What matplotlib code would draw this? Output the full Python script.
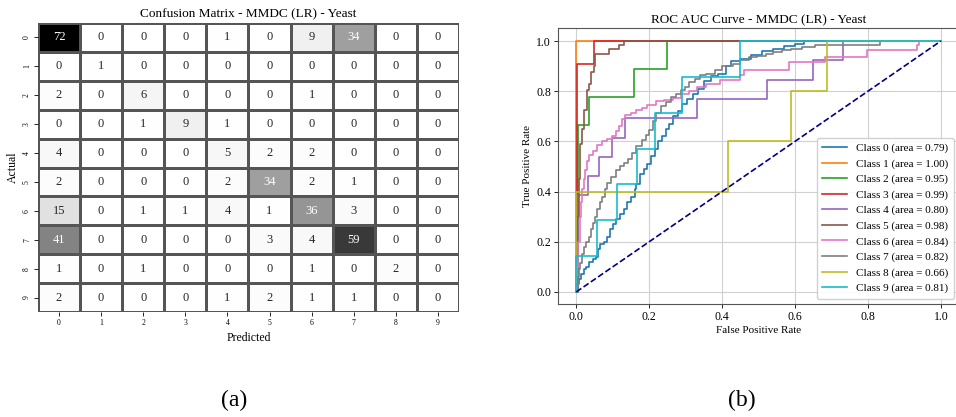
import numpy as np
import matplotlib
matplotlib.use("Agg")
import matplotlib.pyplot as plt
import seaborn as sns

plt.rcParams['font.family'] = ['Liberation Serif', 'DejaVu Serif']

# confusion matrix (rows = actual, cols = predicted)
labels = [str(i) for i in range(10)]
cm = np.array([
    [72, 0, 0, 0, 1, 0, 9, 34, 0, 0],
    [0, 1, 0, 0, 0, 0, 0, 0, 0, 0],
    [2, 0, 6, 0, 0, 0, 1, 0, 0, 0],
    [0, 0, 1, 9, 1, 0, 0, 0, 0, 0],
    [4, 0, 0, 0, 5, 2, 2, 0, 0, 0],
    [2, 0, 0, 0, 2, 34, 2, 1, 0, 0],
    [15, 0, 1, 1, 4, 1, 36, 3, 0, 0],
    [41, 0, 0, 0, 0, 3, 4, 59, 0, 0],
    [1, 0, 1, 0, 0, 0, 1, 0, 2, 0],
    [2, 0, 0, 0, 1, 2, 1, 1, 0, 0],
])

# ROC curves, corner points (top of each vertical step)
fpr0 = [0, 0.003, 0.008, 0.012, 0.02, 0.028, 0.035, 0.045, 0.055, 0.06, 0.065, 0.075,
        0.085, 0.092, 0.1, 0.11, 0.12, 0.13, 0.14, 0.15, 0.16, 0.165, 0.175, 0.185,
        0.195, 0.205, 0.215, 0.225, 0.235, 0.245, 0.255, 0.265, 0.28, 0.29, 0.305,
        0.32, 0.335, 0.35, 0.37, 0.39, 0.41, 0.425, 0.45, 0.48, 0.51, 0.54, 0.57,
        0.6, 0.625, 1.0]
tpr0 = [0, 0.03, 0.05, 0.07, 0.09, 0.10, 0.12, 0.13, 0.14, 0.17, 0.19, 0.2,
        0.22, 0.25, 0.27, 0.29, 0.31, 0.33, 0.36, 0.38, 0.41, 0.43, 0.47, 0.49,
        0.51, 0.54, 0.57, 0.6, 0.62, 0.65, 0.67, 0.7, 0.72, 0.75, 0.77,
        0.79, 0.81, 0.84, 0.86, 0.87, 0.9, 0.92, 0.93, 0.945, 0.96, 0.97, 0.98,
        0.99, 1.0, 1.0]
fpr1 = [0, 0, 1.0]
tpr1 = [0, 1.0, 1.0]
fpr2 = [0, 0.005, 0.036, 0.158, 0.25, 1.0]
tpr2 = [0, 0.667, 0.778, 0.889, 1.0, 1.0]
fpr3 = [0, 0.003, 0.05, 1.0]
tpr3 = [0, 0.909, 1.0, 1.0]
fpr4 = [0, 0.005, 0.033, 0.062, 0.099, 0.135, 0.331, 0.524, 0.649, 0.733, 1.0]
tpr4 = [0, 0.385, 0.462, 0.538, 0.615, 0.692, 0.769, 0.846, 0.923, 1.0, 1.0]
fpr5 = [0, 0.003, 0.008, 0.011, 0.016, 0.02, 0.029, 0.035, 0.04, 0.048, 0.052,
        0.09, 0.118, 0.131, 1.0]
tpr5 = [0, 0.3, 0.45, 0.59, 0.65, 0.725, 0.805, 0.83, 0.878, 0.9, 0.95,
        0.97, 0.985, 1.0, 1.0]
fpr6 = [0, 0.003, 0.006, 0.01, 0.013, 0.016, 0.02, 0.025, 0.03, 0.034, 0.045, 0.057,
        0.071, 0.085, 0.099, 0.108, 0.117, 0.126, 0.135, 0.15, 0.163, 0.18, 0.195,
        0.218, 0.24, 0.265, 0.288, 0.31, 0.33, 0.357, 0.394, 0.45, 0.46, 0.584,
        0.681, 0.797, 0.934, 0.94, 1.0]
tpr6 = [0, 0.1, 0.2, 0.3, 0.36, 0.41, 0.45, 0.487, 0.52, 0.546, 0.56, 0.586,
        0.6, 0.61, 0.62, 0.64, 0.66, 0.69, 0.706, 0.715, 0.725, 0.735, 0.745,
        0.759, 0.765, 0.772, 0.79, 0.8, 0.817, 0.83, 0.843, 0.865, 0.885, 0.918,
        0.935, 0.964, 0.984, 1.0, 1.0]
fpr7 = [0, 0.003, 0.005, 0.008, 0.011, 0.015, 0.02, 0.027, 0.034, 0.04, 0.046, 0.052,
        0.057, 0.064, 0.071, 0.078, 0.085, 0.095, 0.108, 0.12, 0.131, 0.142, 0.154,
        0.165, 0.18, 0.19, 0.2, 0.21, 0.218, 0.232, 0.246, 0.26, 0.274, 0.286,
        0.297, 0.31, 0.325, 0.34, 0.357, 0.38, 0.4, 0.43, 0.45, 0.475, 0.496,
        0.52, 0.54, 0.565, 0.589, 0.62, 0.654, 0.68, 0.834, 1.0]
tpr7 = [0, 0.03, 0.06, 0.09, 0.115, 0.15, 0.18, 0.2, 0.22, 0.25, 0.275, 0.3,
        0.33, 0.36, 0.38, 0.41, 0.434, 0.46, 0.487, 0.5, 0.513, 0.53, 0.553,
        0.58, 0.606, 0.625, 0.646, 0.68, 0.712, 0.74, 0.758, 0.775, 0.79, 0.805,
        0.818, 0.835, 0.85, 0.865, 0.87, 0.885, 0.9, 0.91, 0.925, 0.935, 0.94,
        0.95, 0.955, 0.964, 0.97, 0.977, 0.986, 0.986, 1.0, 1.0]
fpr8 = [0, 0, 0.415, 0.589, 0.687, 1.0]
tpr8 = [0, 0.4, 0.6, 0.8, 1.0, 1.0]
fpr9 = [0, 0, 0.057, 0.112, 0.166, 0.217, 0.29, 0.45, 1.0]
tpr9 = [0, 0.143, 0.286, 0.429, 0.571, 0.714, 0.857, 1.0, 1.0]

roc_auc = [0.79, 1.00, 0.95, 0.99, 0.80, 0.98, 0.84, 0.82, 0.66, 0.81]
fprs = [fpr0, fpr1, fpr2, fpr3, fpr4, fpr5, fpr6, fpr7, fpr8, fpr9]
tprs = [tpr0, tpr1, tpr2, tpr3, tpr4, tpr5, tpr6, tpr7, tpr8, tpr9]

fig = plt.figure(figsize=(9.56, 4.17), dpi=100)

# (a) confusion matrix
ax1 = fig.add_axes([0.0397, 0.2518, 0.4404, 0.693])
sns.heatmap(cm, annot=True, fmt='d', cmap='Greys', cbar=False, ax=ax1,
            linewidths=0.8, linecolor='#555555', annot_kws={'size': 9},
            xticklabels=labels, yticklabels=labels)
ax1.set_title('Confusion Matrix - MMDC (LR) - Yeast', fontsize=9.5, pad=4)
ax1.set_xlabel('Predicted', fontsize=8.5, labelpad=3.5)
ax1.set_ylabel('Actual', fontsize=8.5, labelpad=3)
ax1.tick_params(labelsize=5.5, length=3, width=0.6, pad=2)
plt.setp(ax1.get_yticklabels(), rotation=90, va='center')
plt.setp(ax1.get_xticklabels(), rotation=0)

# (b) ROC curves
ax2 = fig.add_axes([0.5837, 0.2698, 0.4195, 0.6619])
for i in range(10):
    ax2.plot(fprs[i], tprs[i], drawstyle='steps-post', lw=1.2,
             label=f'Class {i} (area = {roc_auc[i]:.2f})')
ax2.plot([0, 1], [0, 1], color='navy', lw=1.2, linestyle='--')
ax2.set_xlim(-0.05, 1.05)
ax2.set_ylim(-0.05, 1.05)
ax2.grid(True, color='#d0d0d0', lw=0.8)
ax2.set_axisbelow(True)
ax2.set_title('ROC AUC Curve - MMDC (LR) - Yeast', fontsize=9.5, pad=4)
ax2.set_xlabel('False Positive Rate', fontsize=8, labelpad=2)
ax2.set_ylabel('True Positive Rate', fontsize=8, labelpad=3)
ax2.tick_params(labelsize=8.5, length=3, width=0.6, pad=2)
for s in ax2.spines.values():
    s.set_color('#555555')
ax2.legend(loc='lower right', fontsize=8, handlelength=2.2, labelspacing=0.5,
           borderpad=0.5, framealpha=0.9)

fig.text(0.245, 0.04, '(a)', fontsize=17, ha='center', va='center')
fig.text(0.776, 0.04, '(b)', fontsize=17, ha='center', va='center')

fig.savefig('out.png', dpi=100)
